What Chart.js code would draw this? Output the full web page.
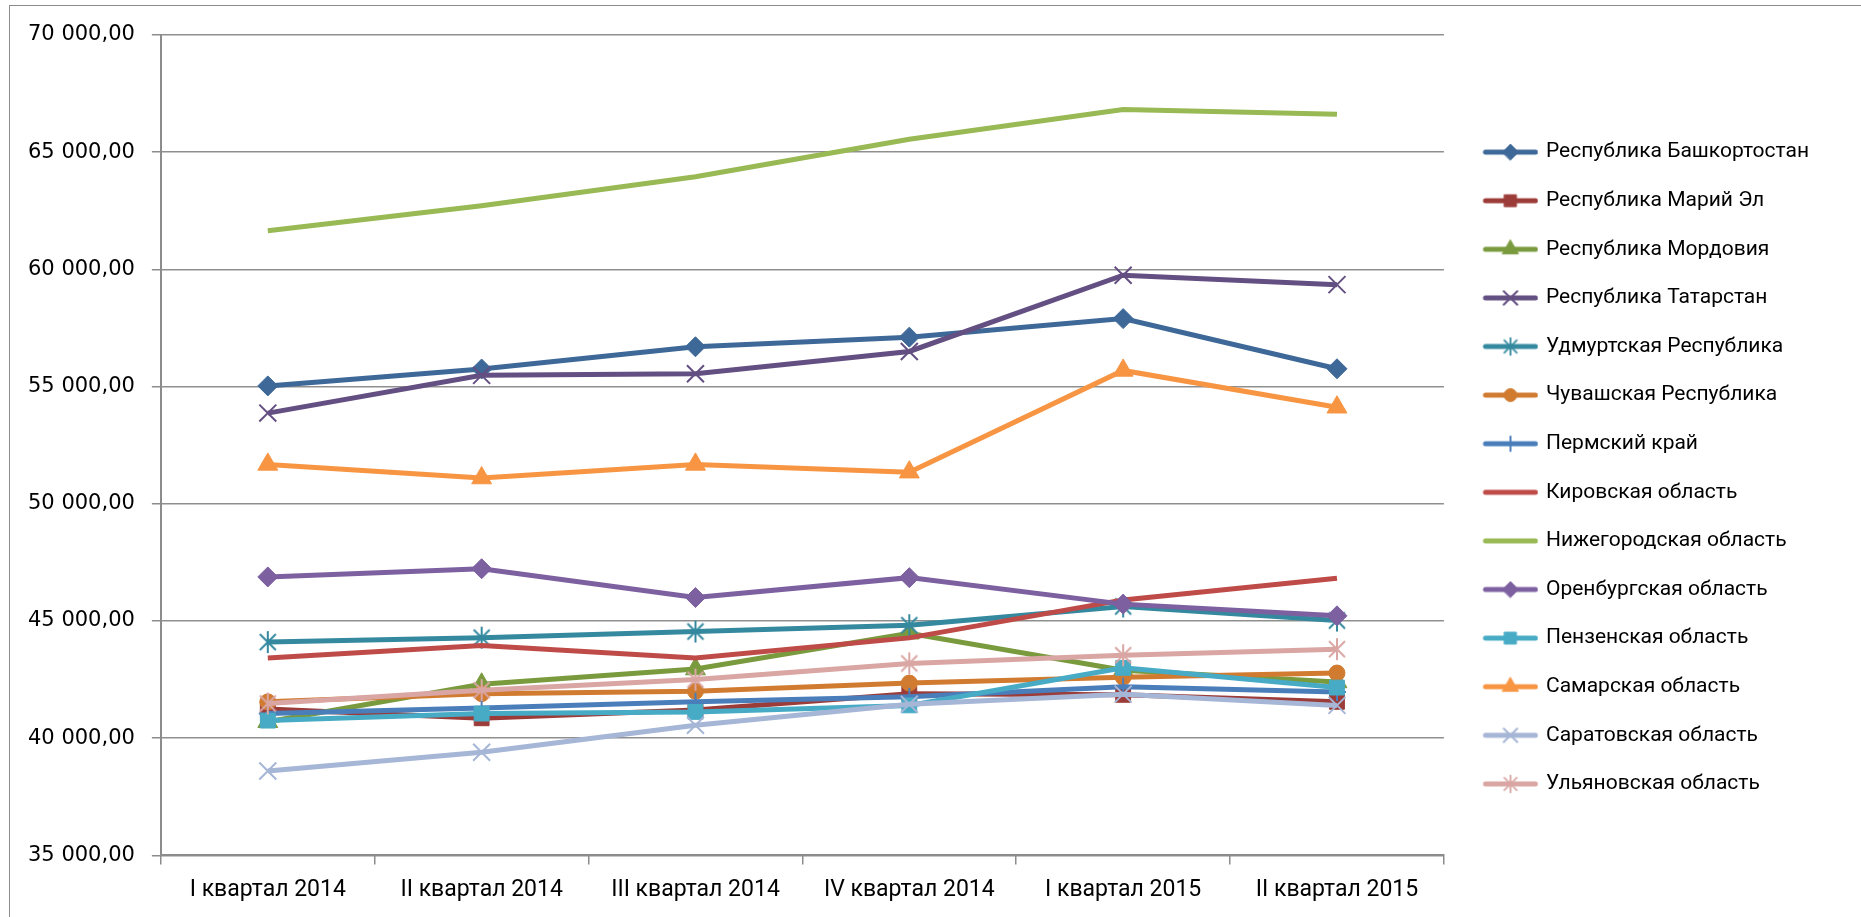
<!DOCTYPE html>
<html>
<head>
<meta charset="utf-8">
<script src="https://cdn.jsdelivr.net/npm/chart.js@4/dist/chart.umd.min.js"></script>
<style>
  html, body { margin: 0; padding: 0; background: #fff; }
  #wrap { position: relative; width: 1861px; height: 917px; overflow: hidden; }
  #frame { position: absolute; left: 9px; top: 5px; width: 1900px; height: 1000px; border: 1.5px solid #8c8c8c; }
  canvas { position: absolute; left: 0; top: 0; }
</style>
</head>
<body>
<div id="wrap">
  <div id="frame"></div>
  <canvas id="myChart" width="1861" height="917"></canvas>
</div>
<script>
// quarters on the x axis
let quarters = ["I квартал 2014", "II квартал 2014", "III квартал 2014", "IV квартал 2014", "I квартал 2015", "II квартал 2015"];

// y axis range
let yMin = 35000;
let yMax = 70000;
let yStep = 5000;

// series values
let bashkortostan = [55030, 55750, 56700, 57110, 57900, 55760];
let mariEl = [41250, 40850, 41200, 41900, 41850, 41550];
let mordovia = [40700, 42300, 42950, 44480, 42900, 42400];
let tatarstan = [53870, 55480, 55550, 56500, 59750, 59350];
let udmurtia = [44100, 44290, 44550, 44820, 45620, 45020];
let chuvashia = [41550, 41900, 42000, 42350, 42600, 42780];
let perm = [41050, 41290, 41550, 41770, 42190, 41970];
let kirov = [43420, 43950, 43420, 44280, 45900, 46820];
let nizhny = [61650, 62720, 63950, 65550, 66820, 66620];
let orenburg = [46880, 47230, 46000, 46850, 45720, 45220];
let penza = [40750, 41050, 41120, 41400, 43000, 42160];
let samara = [51680, 51100, 51680, 51350, 55690, 54120];
let saratov = [38600, 39400, 40550, 41450, 41880, 41400];
let ulyanovsk = [41480, 42050, 42500, 43190, 43540, 43800];

let names = [
  "Республика Башкортостан", "Республика Марий Эл", "Республика Мордовия", "Республика Татарстан",
  "Удмуртская Республика", "Чувашская Республика", "Пермский край", "Кировская область",
  "Нижегородская область", "Оренбургская область", "Пензенская область", "Самарская область",
  "Саратовская область", "Ульяновская область"
];
let values = [bashkortostan, mariEl, mordovia, tatarstan, udmurtia, chuvashia, perm, kirov,
  nizhny, orenburg, penza, samara, saratov, ulyanovsk];
let colors = ["#3d6898", "#9c3c39", "#7a9a3e", "#644f82", "#34899f", "#d17b30", "#4a7ebb", "#be4b48",
  "#98b954", "#7d60a0", "#47abc6", "#f79543", "#a6b6d6", "#d9a6a4"];
let markers = ["rectRot", "rect", "triangle", "crossRot", "asterisk", "circle", "cross", false,
  false, "rectRot", "rect", "triangle", "crossRot", "asterisk"];
let radii = { rectRot: 10, rect: 10.5, triangle: 11.5, crossRot: 12, asterisk: 11, circle: 8, cross: 9 };

// excel style asterisk: an X with a vertical bar
function makeAsterisk(color) {
  let c = document.createElement("canvas");
  c.width = 24;
  c.height = 24;
  let g = c.getContext("2d");
  g.strokeStyle = color;
  g.lineWidth = 2;
  g.beginPath();
  g.moveTo(4, 4); g.lineTo(20, 20);
  g.moveTo(20, 4); g.lineTo(4, 20);
  g.moveTo(12, 1); g.lineTo(12, 23);
  g.stroke();
  return c;
}

// legend sample: a short line with the marker in the middle
// (blank strip on the left keeps a gap between plot and legend)
let legendGap = 14;
let sampleW = 56;
function makeLegendSample(i) {
  let c = document.createElement("canvas");
  c.width = legendGap + sampleW;
  c.height = 26;
  let g = c.getContext("2d");
  let cx = legendGap + sampleW / 2;
  g.strokeStyle = colors[i];
  g.lineWidth = 5;
  g.lineCap = "round";
  g.beginPath();
  g.moveTo(legendGap + 3, 13);
  g.lineTo(legendGap + sampleW - 3, 13);
  g.stroke();
  let m = markers[i];
  if (m === "asterisk") {
    g.drawImage(makeAsterisk(colors[i]), cx - 10, 13 - 10, 20, 20);
  } else if (m) {
    g.fillStyle = colors[i];
    g.strokeStyle = colors[i];
    g.lineWidth = (m === "crossRot" || m === "cross") ? 2 : 1;
    Chart.helpers.drawPoint(g, { pointStyle: m, radius: radii[m] * 0.8, rotation: 0, borderWidth: g.lineWidth }, cx, 13);
  }
  return c;
}

let datasets = names.map((name, i) => {
  let m = markers[i];
  return {
    label: name,
    data: values[i],
    borderColor: colors[i],
    backgroundColor: colors[i],
    borderWidth: 5,
    pointStyle: m === "asterisk" ? makeAsterisk(colors[i]) : (m || "circle"),
    pointRadius: m ? radii[m] : 0,
    pointBorderWidth: (m === "crossRot" || m === "cross") ? 2 : 1,
    pointBackgroundColor: colors[i],
    pointBorderColor: colors[i],
    tension: 0,
    order: names.length - i
  };
});

let legendSamples = names.map((n, i) => makeLegendSample(i));

function formatTick(v) {
  let s = Math.round(v).toString().replace(/\B(?=(\d{3})+(?!\d))/g, " ");
  return s + ",00";
}

let ctx = document.getElementById("myChart").getContext("2d");

let myChart = new Chart(ctx, {
  type: "line",
  data: {
    labels: quarters,
    datasets
  },
  options: {
    responsive: false,
    animation: false,
    layout: { padding: { top: 35, left: 11, bottom: 1, right: 42 } },
    plugins: {
      tooltip: { enabled: false },
      legend: {
        position: "right",
        align: "start",
        // empty title only pushes the items down to where excel put them
        title: { display: true, text: " ", font: { size: 20 }, padding: { top: 0, bottom: 55 } },
        labels: {
          usePointStyle: true,
          pointStyleWidth: legendGap + sampleW - 6,
          padding: 27.6,
          color: "#000",
          font: { family: "Roboto, 'Noto Sans', sans-serif", size: 21 },
          sort: (a, b) => a.datasetIndex - b.datasetIndex,
          generateLabels(chart) {
            let items = Chart.defaults.plugins.legend.labels.generateLabels(chart);
            items.forEach(it => {
              it.pointStyle = legendSamples[it.datasetIndex];
            });
            return items;
          }
        }
      }
    },
    scales: {
      x: {
        offset: true,
        grid: {
          offset: true,
          drawOnChartArea: false,
          drawTicks: true,
          tickLength: 9,
          tickColor: "#8c8c8c",
          lineWidth: 1.5
        },
        border: { color: "#8c8c8c", width: 2 },
        ticks: {
          color: "#000",
          padding: 12,
          maxRotation: 0,
          font: { family: "Roboto, 'Noto Sans', sans-serif", size: 23 }
        }
      },
      y: {
        min: yMin,
        max: yMax,
        grid: {
          color: "#8f8f8f",
          lineWidth: 1.5,
          drawTicks: true,
          tickLength: 9,
          tickColor: "#8c8c8c"
        },
        border: { color: "#8c8c8c", width: 2 },
        ticks: {
          stepSize: yStep,
          color: "#000",
          padding: 17,
          font: { family: "'DejaVu Sans', Verdana, sans-serif", size: 21 },
          callback: v => formatTick(v)
        }
      }
    }
  }
});
</script>
</body>
</html>
